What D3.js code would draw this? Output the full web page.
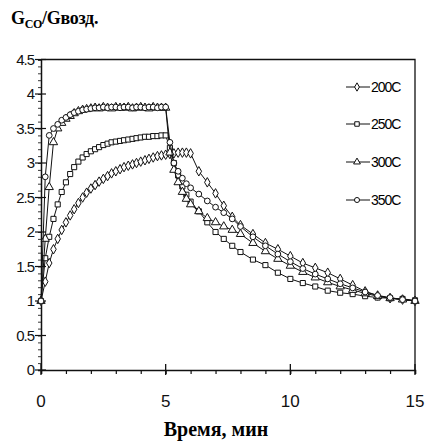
<!DOCTYPE html>
<html>
<head>
<meta charset="utf-8">
<script src="https://cdn.jsdelivr.net/npm/d3@7"></script>
<style>
    body { margin: 0; background: #fff; }
    svg { display: block; }
</style>
</head>
<body>
<svg id="chart"></svg>
<script>
// time points, min
const times = [0, 0.17, 0.33, 0.5, 0.67, 0.83, 1, 1.17, 1.33, 1.5, 1.67, 1.83, 2, 2.17, 2.33, 2.5, 2.67, 2.83, 3, 3.17, 3.33, 3.5, 3.67, 3.83, 4, 4.17, 4.33, 4.5, 4.67, 4.83, 5,
    5.17, 5.33, 5.5, 5.67, 5.83, 6, 6.33, 6.67, 7, 7.33, 7.67, 8,
    8.5, 9, 9.5, 10, 10.5, 11, 11.5, 12, 12.5, 13, 13.5, 14, 14.5, 15]

const values200 = [1.0, 1.28, 1.55, 1.75, 1.9, 2.03, 2.14, 2.24, 2.33, 2.42, 2.5, 2.57, 2.63, 2.68, 2.73, 2.77, 2.81, 2.85, 2.88, 2.91, 2.94, 2.96, 2.98, 3.0, 3.02, 3.04, 3.06, 3.08, 3.1, 3.11, 3.12,
    3.13, 3.14, 3.15, 3.15, 3.15, 3.14, 2.88, 2.72, 2.56, 2.38, 2.22, 2.1,
    1.97, 1.84, 1.75, 1.65, 1.55, 1.48, 1.41, 1.32, 1.23, 1.14, 1.08, 1.04, 1.02, 1.0]

const values250 = [1.0, 1.62, 1.93, 2.19, 2.4, 2.58, 2.72, 2.84, 2.94, 3.02, 3.08, 3.13, 3.17, 3.2, 3.23, 3.26, 3.28, 3.3, 3.31, 3.32, 3.33, 3.34, 3.35, 3.36, 3.37, 3.38, 3.38, 3.39, 3.39, 3.4, 3.4,
    3.22, 3.0, 2.82, 2.66, 2.54, 2.44, 2.3, 2.14, 2.0, 1.9, 1.8, 1.71,
    1.6, 1.52, 1.41, 1.32, 1.26, 1.21, 1.15, 1.12, 1.1, 1.07, 1.05, 1.04, 1.03, 1.01]

const values300 = [1.0, 1.9, 2.65, 3.3, 3.5, 3.58, 3.64, 3.68, 3.72, 3.75, 3.77, 3.78, 3.79, 3.8, 3.79, 3.81, 3.8, 3.79, 3.81, 3.8, 3.8, 3.81, 3.79, 3.8, 3.81, 3.8, 3.79, 3.81, 3.8, 3.8, 3.8,
    3.15, 2.9, 2.72, 2.58, 2.48, 2.4, 2.3, 2.2, 2.14, 2.08, 2.03, 1.97,
    1.84, 1.72, 1.61, 1.51, 1.42, 1.34, 1.27, 1.21, 1.16, 1.11, 1.07, 1.04, 1.02, 1.0]

const values350 = [1.0, 2.8, 3.4, 3.5, 3.56, 3.62, 3.66, 3.7, 3.73, 3.75, 3.77, 3.78, 3.79, 3.8, 3.8, 3.81, 3.8, 3.81, 3.81, 3.8, 3.81, 3.81, 3.8, 3.81, 3.81, 3.8, 3.81, 3.81, 3.8, 3.81, 3.81,
    3.3, 3.0, 2.88, 2.78, 2.7, 2.64, 2.55, 2.45, 2.36, 2.28, 2.19, 2.08,
    1.93, 1.8, 1.68, 1.57, 1.47, 1.39, 1.32, 1.25, 1.19, 1.13, 1.08, 1.05, 1.02, 1.0]

const seriesNames = ["200C", "250C", "300C", "350C"]
const seriesValues = [values200, values250, values300, values350]
const seriesSymbols = [d3.symbolDiamond, d3.symbolSquare, d3.symbolTriangle, d3.symbolCircle]

const xTicks = [0, 5, 10, 15]
const yTicks = [0, 0.5, 1, 1.5, 2, 2.5, 3, 3.5, 4, 4.5]

const width = 433
const height = 441
const margins = {left: 41, right: 18, top: 59.5, bottom: 71}

const svg = d3.select("#chart").attr("width", width).attr("height", height)

const scaleX = d3.scaleLinear().domain([0, 15]).range([margins.left, width - margins.right])
const scaleY = d3.scaleLinear().domain([0, 4.5]).range([height - margins.bottom, margins.top])

const sans = "'Liberation Sans', Arial, sans-serif"
const serif = "'Liberation Serif', 'Times New Roman', serif"

// frame on top and right
svg.append("path")
    .attr("d", `M${scaleX(0)},${scaleY(4.5)} H${scaleX(15)} V${scaleY(0)}`)
    .attr("fill", "none").attr("stroke", "#111").attr("stroke-width", 1.3)

// x axis: minor ticks every minute, majors cross the line
let xAxis = svg.append("g").attr("transform", `translate(0, ${scaleY(0)})`)
xAxis.call(d3.axisBottom(scaleX).tickValues(d3.range(0, 16)).tickSize(4).tickFormat(""))
xAxis.selectAll(".tick line").attr("stroke", "#111").attr("stroke-width", 1.2)
xAxis.select(".domain").attr("stroke", "#111").attr("stroke-width", 1.5)
xAxis.selectAll(".major").data(xTicks).join("line")
    .attr("x1", d => scaleX(d)).attr("x2", d => scaleX(d))
    .attr("y1", -6).attr("y2", 5)
    .attr("stroke", "#111").attr("stroke-width", 1.3)
xAxis.selectAll(".lbl").data(xTicks).join("text")
    .attr("x", d => scaleX(d)).attr("y", 37)
    .attr("text-anchor", "middle")
    .attr("fill", "#111")
    .style("font-family", sans).style("font-size", "17px")
    .text(d => d)

// y axis: minor ticks every 0.1
let yAxis = svg.append("g").attr("transform", `translate(${scaleX(0)}, 0)`)
yAxis.call(d3.axisLeft(scaleY).tickValues(d3.range(0, 46).map(d => d / 10)).tickSize(3).tickFormat(""))
yAxis.selectAll(".tick line").attr("stroke", "#222").attr("stroke-width", 0.9)
yAxis.select(".domain").attr("stroke", "#111").attr("stroke-width", 1.5)
yAxis.selectAll(".major").data(yTicks).join("line")
    .attr("y1", d => scaleY(d)).attr("y2", d => scaleY(d))
    .attr("x1", -6).attr("x2", 5)
    .attr("stroke", "#111").attr("stroke-width", 1.2)
yAxis.selectAll(".lbl").data(yTicks).join("text")
    .attr("x", -7).attr("y", d => scaleY(d))
    .attr("dy", "0.36em")
    .attr("text-anchor", "end")
    .attr("letter-spacing", "-1")
    .attr("fill", "#111")
    .style("font-family", sans).style("font-size", "15px")
    .text(d => d)

// series
let lineGenerator = d3.line()
    .x((d, i) => scaleX(times[i]))
    .y(d => scaleY(d))

let series = svg.append("g").attr("id", "series")
seriesValues.forEach((values, k) => {
    let g = series.append("g")
    g.append("path")
        .attr("d", lineGenerator(values))
        .attr("fill", "none").attr("stroke", "#111").attr("stroke-width", 1)
    g.selectAll("path.mark").data(values).join("path")
        .attr("class", "mark")
        .attr("d", d3.symbol().type(seriesSymbols[k]).size(k === 2 ? 30 : 26))
        .attr("transform", (d, i) => `translate(${scaleX(times[i])}, ${scaleY(d)})`)
        .attr("fill", "#fff").attr("stroke", "#111").attr("stroke-width", 1)
})

// legend
let legend = svg.append("g").attr("id", "legend")
let legendRows = [87, 124, 162, 200]
seriesNames.forEach((name, k) => {
    let row = legend.append("g").attr("transform", `translate(0, ${legendRows[k]})`)
    row.append("line").attr("x1", 346).attr("x2", 370).attr("y1", 0).attr("y2", 0)
        .attr("stroke", "#111").attr("stroke-width", 1)
    row.append("path")
        .attr("d", d3.symbol().type(seriesSymbols[k]).size(20))
        .attr("transform", "translate(357, 0)")
        .attr("fill", "#fff").attr("stroke", "#111").attr("stroke-width", 1)
    row.append("text").attr("x", 371).attr("y", 0).attr("dy", "0.36em")
        .attr("letter-spacing", "-1")
        .style("font-family", sans).style("font-size", "14px")
        .text(name)
})

// titles
let title = svg.append("text").attr("x", 11).attr("y", 24)
    .attr("letter-spacing", "-0.3")
    .style("font-family", serif).style("font-size", "18px").style("font-weight", "bold")
title.append("tspan").text("G")
title.append("tspan").attr("dy", 4).style("font-size", "12px").text("CO")
title.append("tspan").attr("dy", -4).text("/Gвозд.")

svg.append("text").attr("x", 216).attr("y", 436)
    .attr("text-anchor", "middle")
    .style("font-family", serif).style("font-size", "20px").style("font-weight", "bold")
    .text("Время, мин")
</script>
</body>
</html>
